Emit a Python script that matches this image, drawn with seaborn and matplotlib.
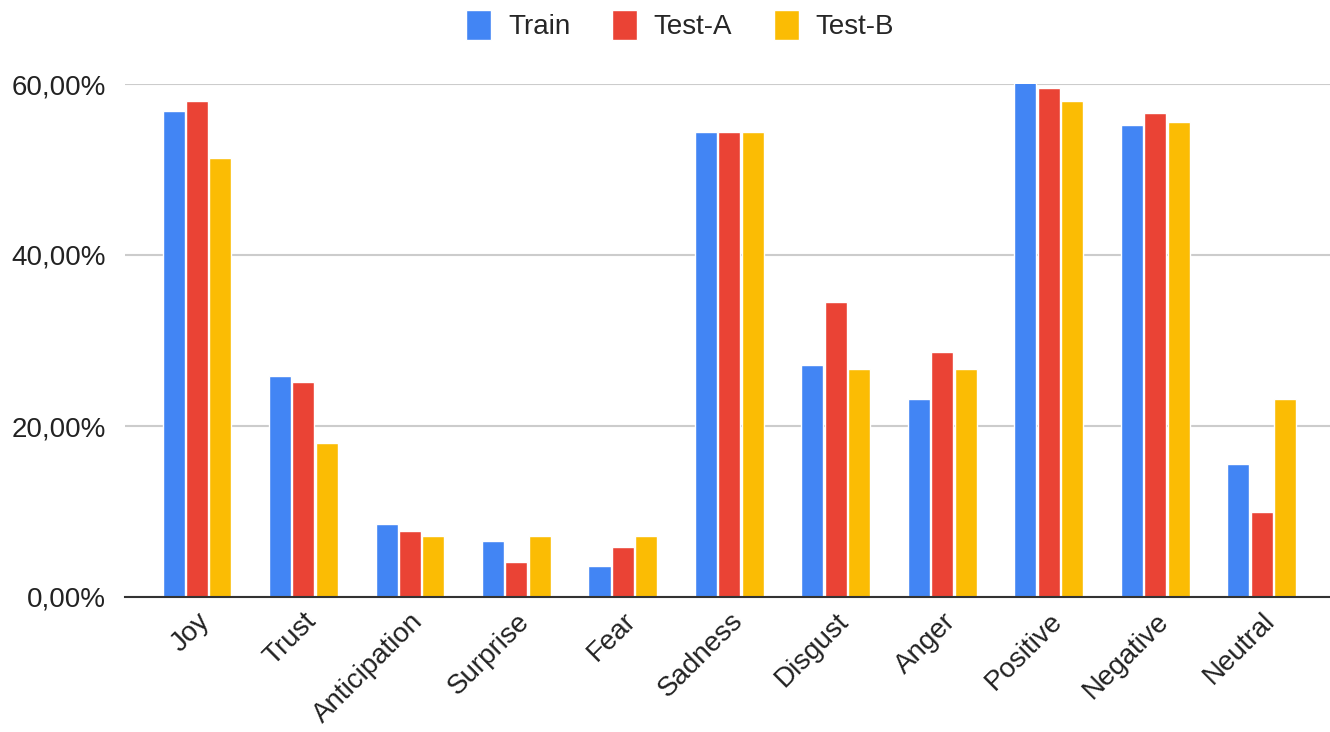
import matplotlib
matplotlib.use("Agg")
import matplotlib.pyplot as plt
import seaborn as sns
import pandas as pd
from matplotlib.ticker import FuncFormatter

categories = ["Joy", "Trust", "Anticipation", "Surprise", "Fear", "Sadness",
              "Disgust", "Anger", "Positive", "Negative", "Neutral"]
train = [56.8, 25.9, 8.5, 6.6, 3.6, 54.4, 27.1, 23.2, 60.5, 55.2, 15.5]
test_a = [58.0, 25.1, 7.7, 4.1, 5.8, 54.4, 34.5, 28.7, 59.5, 56.6, 9.9]
test_b = [51.4, 18.0, 7.1, 7.1, 7.1, 54.4, 26.7, 26.7, 58.0, 55.6, 23.2]
series = ["Train", "Test-A", "Test-B"]
colors = ["#4285F4", "#EA4335", "#FBBC04"]

df = pd.DataFrame({"category": categories, "Train": train, "Test-A": test_a, "Test-B": test_b})
long = df.melt(id_vars="category", var_name="series", value_name="value")

sns.set_style("white")
plt.rcParams["font.family"] = ["Liberation Sans", "DejaVu Sans"]

fig = plt.figure(figsize=(13.3, 7.32), dpi=100)
ax = fig.add_axes([125 / 1330, 1 - 597 / 732, 1205 / 1330, (597 - 84) / 732])

sns.barplot(data=long, x="category", y="value", hue="series", hue_order=series,
            palette=colors, width=0.66, gap=0.06, saturation=1, ax=ax, legend=True)

ax.set_xlim(-0.676, 10.64)
ax.set_ylim(0, 60)
ax.set_yticks([0, 20, 40, 60])
ax.yaxis.set_major_formatter(FuncFormatter(lambda v, _: f"{v:.2f}%".replace(".", ",")))
ax.grid(axis="y", color="#cccccc", linewidth=1.5)
ax.set_axisbelow(True)
for s in ["top", "right", "left"]:
    ax.spines[s].set_visible(False)
ax.spines["bottom"].set_color("#333333")
ax.spines["bottom"].set_linewidth(1.5)
ax.set_xlabel("")
ax.set_ylabel("")
ax.tick_params(axis="y", labelsize=20, length=0, pad=14, colors="#222222")
ax.tick_params(axis="x", labelsize=20, length=0, pad=8, colors="#222222")
plt.setp(ax.get_xticklabels(), rotation=45, ha="right", rotation_mode="anchor")

handles, labels = ax.get_legend_handles_labels()
ax.legend(handles, labels, loc="center", bbox_to_anchor=(555 / 1205, 1 + 59 / 513),
          ncol=3, frameon=False, fontsize=20, handlelength=0.9, handleheight=1.3,
          handletextpad=0.6, columnspacing=1.5)

fig.savefig("out.png", dpi=100)
